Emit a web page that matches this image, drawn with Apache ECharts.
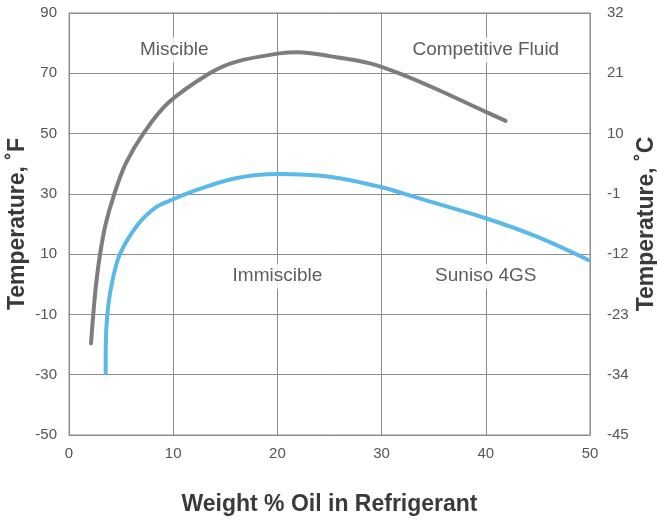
<!DOCTYPE html>
<html><head><meta charset="utf-8">
<script src="https://cdn.jsdelivr.net/npm/echarts@6/dist/echarts.min.js"></script>
<style>html,body{margin:0;padding:0;background:#fff}#c{width:657px;height:521px}</style>
</head><body><div id="c"></div>
<script>
// Competitive Fluid curve (Weight % oil, °F)
var competitiveX = [2.11, 2.33, 2.6, 2.98, 3.52, 4.35, 5.44, 7.13, 9.53, 13.5, 16, 20.2, 22, 25, 28.9, 32.1, 35.3, 40, 41.9];
var competitiveY = [-19.6, -10, 0, 10, 20, 30, 40, 50, 60.2, 70, 73.8, 76.6, 77, 75.7, 73.3, 69.4, 64.7, 57.2, 54.2];
// Suniso 4GS curve
var sunisoX = [3.52, 3.53, 3.68, 4.1, 4.89, 6.65, 8.41, 10, 12, 16, 20, 25, 30, 33.7, 40, 44.9, 50];
var sunisoY = [-30, -20, -10, 0, 10, 20, 25.7, 28.2, 31, 35.2, 36.6, 35.7, 32.2, 28.4, 21.9, 15.8, 7.8];
// Region labels
var regionNames = ['Miscible', 'Competitive Fluid', 'Immiscible', 'Suniso 4GS'];
var regionX = [10.1, 40, 20, 40];
var regionY = [77.7, 77.7, 2.7, 2.7];
// Tick labels
var fahrenheitTicks = ['-50', '-30', '-10', '10', '30', '50', '70', '90'];
var celsiusTicks = ['-45', '-34', '-23', '-12', '-1', '10', '21', '32'];
var xTicks = ['0', '10', '20', '30', '40', '50'];

function zip(a, b) { return a.map(function (v, i) { return [v, b[i]]; }); }

var FONT = '"Liberation Sans", Arial, sans-serif';
var gridColor = '#8c8c8c';
var titleStyle = { fontFamily: FONT, fontSize: 23, fontWeight: 'bold', color: '#3a3a3a' };
var tickStyle = { fontFamily: FONT, fontSize: 15, color: '#555' };
var chart = echarts.init(document.getElementById('c'));
chart.setOption({
  animation: false,
  grid: { left: 69, right: 67, top: 13, bottom: 86, show: true, borderColor: gridColor, borderWidth: 1,
    outerBoundsMode: 'none', containLabel: false },
  xAxis: {
    type: 'value', min: 0, max: 50, interval: 10,
    name: 'Weight % Oil in Refrigerant', nameLocation: 'middle', nameGap: 58, nameMoveOverlap: false,
    nameTextStyle: titleStyle,
    axisLine: { show: true, onZero: false, lineStyle: { color: gridColor } },
    axisTick: { show: false },
    axisLabel: Object.assign({ margin: 11,
      formatter: function (v) { return xTicks[Math.round(v / 10)]; } }, tickStyle),
    splitLine: { show: true, lineStyle: { color: gridColor, width: 1 } }
  },
  yAxis: [{
    type: 'value', min: -50, max: 90, interval: 20, position: 'left',
    name: 'Temperature, ˚F', nameLocation: 'middle', nameGap: 40, nameRotate: 90, nameMoveOverlap: false,
    nameTextStyle: titleStyle,
    axisLine: { show: true, onZero: false, lineStyle: { color: gridColor } },
    axisTick: { show: false },
    axisLabel: Object.assign({ margin: 12,
      formatter: function (v) { return fahrenheitTicks[Math.round((v + 50) / 20)]; } }, tickStyle),
    splitLine: { show: true, lineStyle: { color: gridColor, width: 1 } }
  }, {
    type: 'value', min: -50, max: 90, interval: 20, position: 'right',
    name: 'Temperature, ˚C', nameLocation: 'middle', nameGap: 45, nameRotate: 90, nameMoveOverlap: false,
    nameTextStyle: titleStyle,
    axisLine: { show: true, onZero: false, lineStyle: { color: gridColor } },
    axisTick: { show: false },
    axisLabel: Object.assign({ margin: 17,
      formatter: function (v) { return celsiusTicks[Math.round((v + 50) / 20)]; } }, tickStyle),
    splitLine: { show: false }
  }],
  series: [{
    type: 'line', data: zip(competitiveX, competitiveY), smooth: 0.35, showSymbol: false,
    lineStyle: { color: '#7d7d80', width: 4, cap: 'round', join: 'round' }, z: 3
  }, {
    type: 'line', data: zip(sunisoX, sunisoY), smooth: 0.35, showSymbol: false,
    lineStyle: { color: '#5bb9e9', width: 4, cap: 'butt', join: 'round' }, z: 3
  }, {
    type: 'scatter', symbolSize: 0, z: 5,
    data: regionNames.map(function (n, i) { return { name: n, value: [regionX[i], regionY[i]] }; }),
    label: { show: true, position: 'inside', formatter: '{b}', fontFamily: FONT, fontSize: 19,
      color: '#333', backgroundColor: '#fff', padding: [3, 2] }
  }]
});
</script></body></html>
